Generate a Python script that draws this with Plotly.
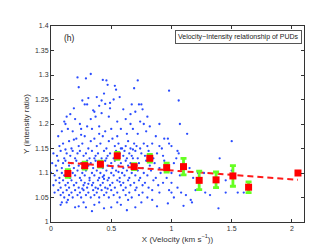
import plotly.graph_objects as go

# ---- data ----
pud_points = [
    # upper outliers
    (0.22,1.295),(0.29,1.293),(0.33,1.302),(0.43,1.29),(0.46,1.289),(0.53,1.278),(0.23,1.275),
    (0.69,1.273),(0.72,1.289),(0.47,1.28),(0.54,1.27),(0.44,1.262),(0.38,1.255),(0.31,1.253),
    (0.26,1.248),(0.42,1.248),(0.57,1.255),(0.52,1.25),(0.49,1.243),(0.45,1.241),(0.19,1.232),
    (0.28,1.24),(0.3,1.24),(0.35,1.228),(0.36,1.225),(0.4,1.237),(0.49,1.232),(0.6,1.23),
    (0.67,1.24),(0.73,1.24),(0.76,1.23),(0.75,1.24),(0.98,1.268),(1.06,1.248),(0.16,1.22),
    (0.13,1.215),(0.11,1.205),(0.12,1.2),(0.2,1.21),(0.24,1.2),(0.33,1.21),(0.37,1.215),
    (0.42,1.222),(0.48,1.215),(0.55,1.205),(0.62,1.21),(0.66,1.22),(0.7,1.225),(0.74,1.205),
    (0.8,1.215),(0.66,1.2),(0.77,1.2),(0.82,1.195),(0.9,1.2),(1.07,1.2),(1.13,1.18),(0.97,1.17),
    (0.06,1.175),(0.09,1.185),(0.14,1.19),(0.18,1.185),(0.25,1.19),(0.3,1.195),(0.34,1.19),
    (0.4,1.195),(0.45,1.185),(0.5,1.19),(0.58,1.19),(0.63,1.18),(0.68,1.19),(0.72,1.18),
    (0.79,1.185),(0.87,1.175),(0.94,1.17),(1.5,1.165),(1.05,1.145),(1.4,1.13),
    # 1.15-1.18
    (0.07,1.155),(0.1,1.16),(0.15,1.165),(0.17,1.15),(0.21,1.17),(0.23,1.155),(0.26,1.16),
    (0.28,1.175),(0.31,1.15),(0.33,1.165),(0.36,1.17),(0.38,1.155),(0.41,1.16),(0.43,1.175),
    (0.46,1.15),(0.48,1.165),(0.51,1.17),(0.53,1.155),(0.56,1.16),(0.59,1.15),(0.62,1.155),
    (0.64,1.165),(0.66,1.15),(0.69,1.16),(0.71,1.155),(0.74,1.15),(0.77,1.16),(0.8,1.155),
    (0.84,1.16),(0.9,1.155),(0.92,1.15),(0.25,1.178),(0.4,1.18),(0.55,1.175),(0.19,1.168),
    (0.12,1.148),
    # 1.13-1.15
    (0.02,1.14),(0.05,1.135),(0.08,1.145),(0.11,1.13),(0.13,1.14),(0.16,1.135),(0.18,1.145),
    (0.2,1.13),(0.22,1.14),(0.24,1.145),(0.27,1.135),(0.29,1.14),(0.32,1.13),(0.34,1.145),
    (0.37,1.135),(0.39,1.14),(0.42,1.13),(0.44,1.145),(0.47,1.135),(0.49,1.14),(0.52,1.13),
    (0.54,1.145),(0.57,1.14),(0.6,1.135),(0.61,1.145),(0.63,1.13),(0.65,1.14),(0.67,1.135),
    (0.7,1.145),(0.72,1.13),(0.75,1.14),(0.78,1.135),(0.81,1.145),(0.85,1.13),(0.88,1.14),
    (0.93,1.135),(0.58,1.15),(0.68,1.148),
    # 1.11-1.13
    (0.01,1.12),(0.04,1.115),(0.06,1.125),(0.09,1.11),(0.1,1.12),(0.12,1.125),(0.15,1.115),
    (0.17,1.12),(0.19,1.11),(0.21,1.125),(0.23,1.115),(0.25,1.12),(0.26,1.11),(0.3,1.125),
    (0.31,1.115),(0.33,1.12),(0.35,1.11),(0.37,1.125),(0.4,1.115),(0.42,1.12),(0.43,1.11),
    (0.45,1.125),(0.47,1.115),(0.5,1.12),(0.51,1.11),(0.53,1.125),(0.56,1.115),(0.58,1.12),
    (0.6,1.11),(0.62,1.125),(0.64,1.115),(0.66,1.12),(0.68,1.13),(0.71,1.115),(0.73,1.12),
    (0.76,1.11),(0.79,1.125),(0.82,1.115),(0.86,1.12),(0.9,1.11),(0.94,1.125),(0.36,1.13),
    (0.46,1.13),(0.55,1.13),
    # 1.09-1.11
    (0.0,1.1),(0.03,1.095),(0.05,1.105),(0.07,1.09),(0.09,1.1),(0.11,1.095),(0.13,1.105),
    (0.16,1.09),(0.18,1.1),(0.2,1.095),(0.22,1.105),(0.24,1.09),(0.26,1.1),(0.28,1.095),
    (0.29,1.105),(0.32,1.09),(0.34,1.1),(0.36,1.095),(0.38,1.105),(0.4,1.09),(0.41,1.1),
    (0.44,1.095),(0.46,1.105),(0.48,1.09),(0.5,1.1),(0.52,1.095),(0.54,1.105),(0.57,1.09),
    (0.59,1.1),(0.61,1.095),(0.63,1.105),(0.65,1.09),(0.67,1.1),(0.7,1.095),(0.72,1.105),
    (0.74,1.09),(0.77,1.1),(0.8,1.095),(0.83,1.105),(0.87,1.09),(0.91,1.1),(0.27,1.108),
    (0.43,1.092),(0.56,1.102),(0.69,1.108),
    # 1.07-1.09
    (0.02,1.075),(0.04,1.085),(0.07,1.08),(0.08,1.07),(0.1,1.085),(0.12,1.075),(0.14,1.08),
    (0.15,1.07),(0.17,1.085),(0.19,1.075),(0.21,1.08),(0.23,1.07),(0.25,1.085),(0.27,1.075),
    (0.28,1.08),(0.3,1.07),(0.32,1.085),(0.34,1.075),(0.35,1.08),(0.37,1.07),(0.39,1.085),
    (0.41,1.075),(0.43,1.08),(0.45,1.07),(0.47,1.085),(0.49,1.075),(0.51,1.08),(0.53,1.07),
    (0.55,1.085),(0.58,1.075),(0.6,1.08),(0.62,1.07),(0.64,1.085),(0.66,1.075),(0.69,1.08),
    (0.71,1.07),(0.73,1.085),(0.76,1.075),(0.78,1.08),(0.81,1.07),(0.85,1.085),(0.89,1.075),
    (0.93,1.08),(0.31,1.078),(0.44,1.088),(0.57,1.082),
    # 1.05-1.07
    (0.03,1.06),(0.06,1.065),(0.08,1.055),(0.1,1.06),(0.11,1.05),(0.13,1.065),(0.15,1.055),
    (0.17,1.06),(0.18,1.05),(0.2,1.065),(0.22,1.055),(0.24,1.06),(0.25,1.05),(0.27,1.065),
    (0.29,1.055),(0.31,1.06),(0.33,1.05),(0.35,1.065),(0.36,1.055),(0.38,1.06),(0.4,1.05),
    (0.42,1.065),(0.44,1.055),(0.46,1.06),(0.48,1.05),(0.5,1.065),(0.52,1.055),(0.55,1.06),
    (0.57,1.05),(0.6,1.065),(0.62,1.055),(0.65,1.06),(0.67,1.05),(0.7,1.065),(0.73,1.055),
    (0.76,1.06),(0.8,1.05),(0.84,1.065),(0.9,1.06),(0.26,1.068),(0.39,1.068),(0.47,1.068),
    # lower
    (0.34,1.022),(0.63,1.024),(1.39,1.028),(0.2,1.03),(0.23,1.032),(0.29,1.03),(0.44,1.028),
    (0.5,1.03),(0.58,1.035),(0.7,1.03),(0.88,1.032),(0.97,1.038),(1.1,1.033),(1.17,1.04),
    (1.16,1.045),(0.08,1.035),(0.09,1.04),(0.13,1.04),(0.14,1.045),(0.27,1.04),(0.36,1.035),
    (0.4,1.04),(0.55,1.04),(0.64,1.045),(0.75,1.04),(0.84,1.045),
    # right sparse
    (1.0,1.06),(1.02,1.05),(0.98,1.065),(1.05,1.07),(1.08,1.06),(1.12,1.055),(1.18,1.09),
    (1.22,1.1),(1.28,1.06),(1.32,1.055),(1.45,1.06),(1.55,1.06),(1.6,1.06),(1.5,1.105),
    (1.45,1.085),(1.2,1.065),(1.1,1.12),(1.04,1.13),(1.06,1.14),(1.38,1.07),(1.0,1.08),
    (1.0,1.1),(0.96,1.09),(1.02,1.12),(1.07,1.095),(1.15,1.11),(1.27,1.1),(0.98,1.16),
    (1.0,1.155),
]
scatter_x = [p[0] for p in pud_points]
scatter_y = [p[1] for p in pud_points]

bin_x = [0.14, 0.28, 0.41, 0.55, 0.69, 0.82, 0.96, 1.10, 1.23, 1.37, 1.51, 1.64, 2.05]
bin_y = [1.099, 1.115, 1.118, 1.135, 1.113, 1.130, 1.111, 1.113, 1.085, 1.086, 1.094, 1.071, 1.100]
bin_err = [0.008, 0.007, 0.006, 0.007, 0.006, 0.008, 0.009, 0.017, 0.019, 0.016, 0.021, 0.011, 0.0]

fit_x = [0.14, 2.05]
fit_y = [1.121, 1.086]

x_ticks = [0, 0.5, 1, 1.5, 2]
x_tick_labels = ["0", "0.5", "1", "1.5", "2"]
y_ticks = [1, 1.05, 1.1, 1.15, 1.2, 1.25, 1.3, 1.35, 1.4]
y_tick_labels = ["1", "1.05", "1.1", "1.15", "1.2", "1.25", "1.3", "1.35", "1.4"]

FONT = "Liberation Sans, Arial, sans-serif"

fig = go.Figure()
fig.add_trace(go.Scatter(x=scatter_x, y=scatter_y, mode="markers",
                         marker=dict(size=2.3, color="#2a4cff", line=dict(width=0)),
                         showlegend=False, hoverinfo="skip"))
fig.add_trace(go.Scatter(x=fit_x, y=fit_y, mode="lines",
                         line=dict(color="#ff1a1a", width=2, dash="6px,4px"),
                         showlegend=False))
fig.add_trace(go.Scatter(x=bin_x, y=bin_y, mode="markers",
                         marker=dict(symbol="square", size=7, color="#ff0000", line=dict(width=0)),
                         error_y=dict(type="data", array=bin_err, visible=True,
                                      color="#66ff22", thickness=2.8, width=3),
                         showlegend=False))

fig.add_annotation(x=0.09, y=1.375, xref="x", yref="y", text="(h)", showarrow=False,
                   xanchor="left", font=dict(size=8.5, color="#222", family=FONT))
fig.add_annotation(x=0.992, y=0.978, xref="paper", yref="paper",
                   text="Velocity\u2212Intensity relationship of PUDs", showarrow=False,
                   xanchor="right", yanchor="top", bgcolor="white",
                   bordercolor="#555", borderwidth=1, borderpad=2,
                   font=dict(size=7, color="#222", family=FONT))

axis_common = dict(showline=True, linecolor="#333", linewidth=1, mirror="ticks",
                   ticks="inside", ticklen=3, tickcolor="#333", showgrid=False,
                   zeroline=False, tickfont=dict(size=7, color="#333", family=FONT))
fig.update_xaxes(range=[0, 2.1], tickvals=x_ticks, ticktext=x_tick_labels,
                 title=dict(text="X (Velocity (km s<sup>\u22121</sup>))", standoff=4,
                            font=dict(size=8, color="#333", family=FONT)),
                 **axis_common)
fig.update_yaxes(range=[1, 1.4], tickvals=y_ticks, ticktext=y_tick_labels,
                 title=dict(text="Y (intensity ratio)", standoff=4,
                            font=dict(size=8, color="#333", family=FONT)),
                 **axis_common)
fig.update_layout(width=327, height=246, margin=dict(l=43, r=31, t=18, b=27),
                  paper_bgcolor="white", plot_bgcolor="white")
fig.write_html("out.html")
